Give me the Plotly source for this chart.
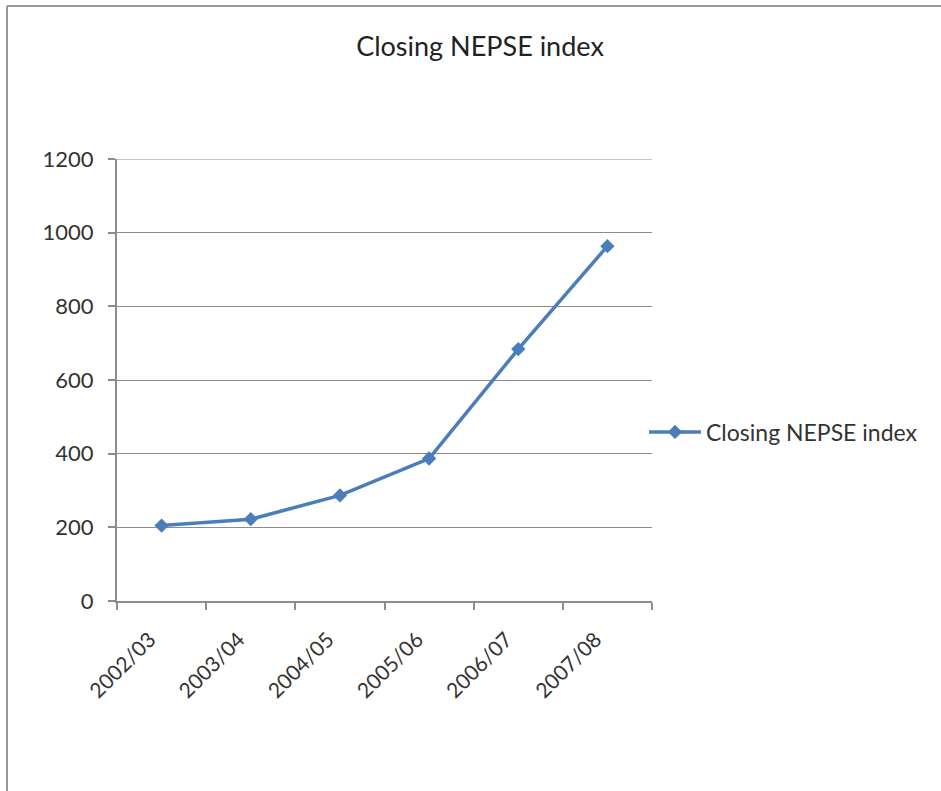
import plotly.graph_objects as go

categories = ["2002/03", "2003/04", "2004/05", "2005/06", "2006/07", "2007/08"]
values = [204.86, 222.04, 286.67, 386.83, 683.95, 963.36]
series_name = "Closing NEPSE index"
y_ticks = [0, 200, 400, 600, 800, 1000, 1200]

W, H = 941, 791
L, R, T, B = 117, 941 - 652, 159, 791 - 601
pw, ph = W - L - R, H - T - B

def px_x(px):
    return (px - L) / pw

def px_y(py):
    return (H - B - py) / ph

FONT = "Lato, 'Open Sans', sans-serif"
GRAY = "#8c8c8c"
BLUE = "#4a7ebb"

fig = go.Figure()
fig.add_trace(go.Scatter(
    x=categories, y=values, name=series_name, mode="lines+markers",
    line=dict(color=BLUE, width=3.5),
    marker=dict(symbol="diamond", size=11, color=BLUE),
    showlegend=True,
))

fig.update_layout(
    width=W, height=H,
    margin=dict(l=L, r=R, t=T, b=B),
    paper_bgcolor="white", plot_bgcolor="white",
    font=dict(family=FONT, color="#333333", size=21),
    title=dict(text="Closing NEPSE index", x=480 / W, xanchor="center",
               y=1 - 47 / H, yanchor="middle",
               font=dict(family=FONT, size=27, color="#222222")),
    xaxis=dict(type="category", range=[-0.5, 5.5], tickson="boundaries",
               showgrid=False, showline=True, linecolor=GRAY, linewidth=2,
               ticks="outside", ticklen=7, tickcolor=GRAY, tickwidth=1.5,
               tickangle=-45, ticklabelstandoff=16, ticklabelshift=-12,
               tickfont=dict(size=21, color="#333333")),
    yaxis=dict(range=[0, 1200], tickvals=y_ticks, showgrid=True, gridcolor=GRAY,
               gridwidth=1.2, showline=True, linecolor=GRAY, linewidth=2,
               ticks="outside", ticklen=7, tickcolor=GRAY, tickwidth=1.5,
               zeroline=False, ticklabelstandoff=10,
               tickfont=dict(size=22, color="#333333")),
    legend=dict(x=px_x(644), xanchor="left", y=px_y(432), yanchor="middle",
                font=dict(size=23, color="#333333"), bgcolor="rgba(0,0,0,0)",
                itemwidth=52),
    shapes=[
        # top gridline (at the range edge, which plotly does not draw)
        dict(type="line", xref="paper", yref="y", layer="below",
             x0=0, x1=1, y0=y_ticks[-1], y1=y_ticks[-1],
             line=dict(color=GRAY, width=1.2)),
        dict(type="line", xref="paper", yref="paper",
             x0=px_x(7), x1=px_x(941), y0=px_y(6), y1=px_y(6),
             line=dict(color="#999999", width=2)),
        dict(type="line", xref="paper", yref="paper",
             x0=px_x(7), x1=px_x(7), y0=px_y(6), y1=px_y(791),
             line=dict(color="#999999", width=2)),
    ],
)

fig.write_html("out.html")
